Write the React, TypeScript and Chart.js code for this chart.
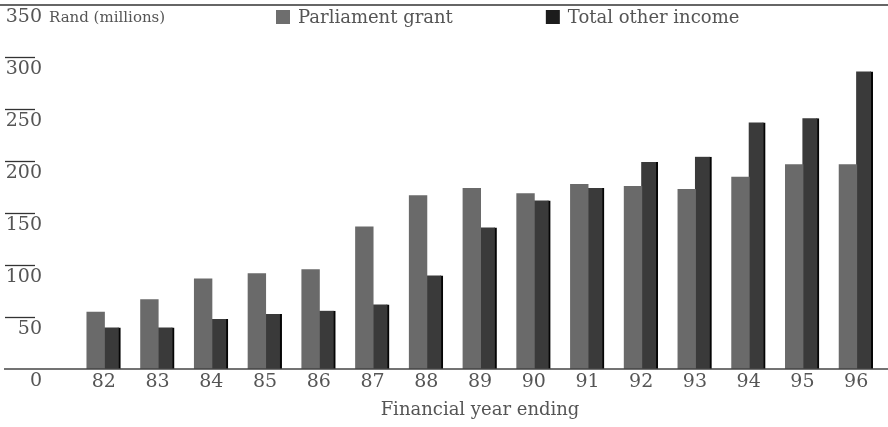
import React, { useEffect, useRef } from 'react';
import { Chart, registerables } from 'chart.js';

Chart.register(...registerables);

const years = ['82', '83', '84', '85', '86', '87', '88', '89', '90', '91', '92', '93', '94', '95', '96'];
const parliamentGrant = [54, 66, 86, 91, 95, 136, 166, 173, 168, 177, 175, 172, 184, 196, 196];
const otherIncome = [40, 40, 48, 53, 56, 62, 90, 136, 162, 174, 199, 204, 237, 241, 286];
const yTicks = [0, 50, 100, 150, 200, 250, 300, 350];
const seriesLabels = ['Parliament grant', 'Total other income'];
const yUnit = 'Rand (millions)';
const xTitle = 'Financial year ending';

const FONT = 'DejaVu Serif';
const TEXT = '#555555';

const decor = {
  id: 'decor',
  afterDraw(chart: any) {
    const ctx = chart.ctx as CanvasRenderingContext2D;
    const y = chart.scales.y;
    const W = chart.width;
    const yMax = y.getPixelForValue(yTicks[yTicks.length - 1]);
    const y0 = y.getPixelForValue(0);
    ctx.save();
    ctx.strokeStyle = '#333';
    ctx.lineWidth = 1.5;
    ctx.beginPath();
    ctx.moveTo(0, yMax);
    ctx.lineTo(W, yMax);
    ctx.stroke();
    ctx.strokeStyle = '#444';
    ctx.beginPath();
    ctx.moveTo(4, y0);
    ctx.lineTo(W, y0);
    ctx.stroke();
    ctx.strokeStyle = '#333';
    ctx.lineWidth = 1.3;
    yTicks.slice(1, -1).forEach((v) => {
      const py = Math.round(y.getPixelForValue(v)) + 0.5;
      ctx.beginPath();
      ctx.moveTo(5, py);
      ctx.lineTo(35, py);
      ctx.stroke();
    });
    // unit label
    ctx.fillStyle = TEXT;
    ctx.font = `15px "${FONT}"`;
    ctx.textBaseline = 'middle';
    ctx.textAlign = 'left';
    ctx.fillText(yUnit, 49, yMax + 13);
    // legend
    ctx.font = `18px "${FONT}"`;
    let x = 276;
    chart.data.datasets.forEach((ds: any, i: number) => {
      ctx.fillStyle = i === 0 ? '#6e6e6e' : '#1c1c1c';
      ctx.fillRect(x, yMax + 5, 14, 14);
      ctx.fillStyle = TEXT;
      ctx.fillText(ds.label, x + 22, yMax + 13);
      x += 22 + ctx.measureText(ds.label).width + 93;
    });
    ctx.restore();
  },
};

export default function App() {
  const ref = useRef<HTMLCanvasElement>(null);
  useEffect(() => {
    if (!ref.current) return;
    const chart = new Chart(ref.current, {
      type: 'bar',
      data: {
        labels: years,
        datasets: [
          {
            label: seriesLabels[0],
            data: parliamentGrant,
            backgroundColor: '#6a6a6a',
            borderWidth: 0,
            inflateAmount: 1,
            categoryPercentage: 0.61,
            barPercentage: 1.0,
          },
          {
            label: seriesLabels[1],
            data: otherIncome,
            backgroundColor: '#3a3a3a',
            borderColor: '#050505',
            borderWidth: { top: 0, right: 2, bottom: 0, left: 0 },
            borderSkipped: false,
            inflateAmount: 0.5,
            categoryPercentage: 0.61,
            barPercentage: 1.0,
          },
        ],
      },
      options: {
        responsive: false,
        animation: false,
        layout: { padding: { top: 5, right: 5, left: 0, bottom: 0 } },
        plugins: { legend: { display: false }, tooltip: { enabled: false } },
        scales: {
          x: {
            offset: true,
            grid: { display: false, drawTicks: false },
            border: { display: false },
            ticks: {
              color: TEXT,
              font: { family: FONT, size: 19 },
              padding: 2,
              maxRotation: 0,
              autoSkip: false,
            },
            title: {
              display: true,
              text: xTitle,
              color: TEXT,
              font: { family: FONT, size: 18 },
              padding: { top: 0, bottom: 6 },
            },
            afterFit: (s: any) => {
              s.height = 58;
              s.paddingLeft = 0;
              s.paddingRight = 0;
            },
          },
          y: {
            min: 0,
            max: 350,
            grid: { display: false, drawTicks: false },
            border: { display: false },
            ticks: {
              color: TEXT,
              font: { family: FONT, size: 19, lineHeight: 1.3 },
              padding: 35,
              autoSkip: false,
              callback: (v: any) => ['', String(v)],
            },
            afterBuildTicks: (s: any) => {
              s.ticks = yTicks.map((v) => ({ value: v }));
            },
            afterFit: (s: any) => {
              s.width = 77;
              s.paddingTop = 0;
              s.paddingBottom = 0;
            },
          },
        },
      },
      plugins: [decor],
    });
    return () => chart.destroy();
  }, []);
  return (
    <div style={{ position: 'fixed', left: 0, top: 0, width: 888, height: 427, background: '#fff' }}>
      <canvas ref={ref} width={888} height={427} />
    </div>
  );
}
